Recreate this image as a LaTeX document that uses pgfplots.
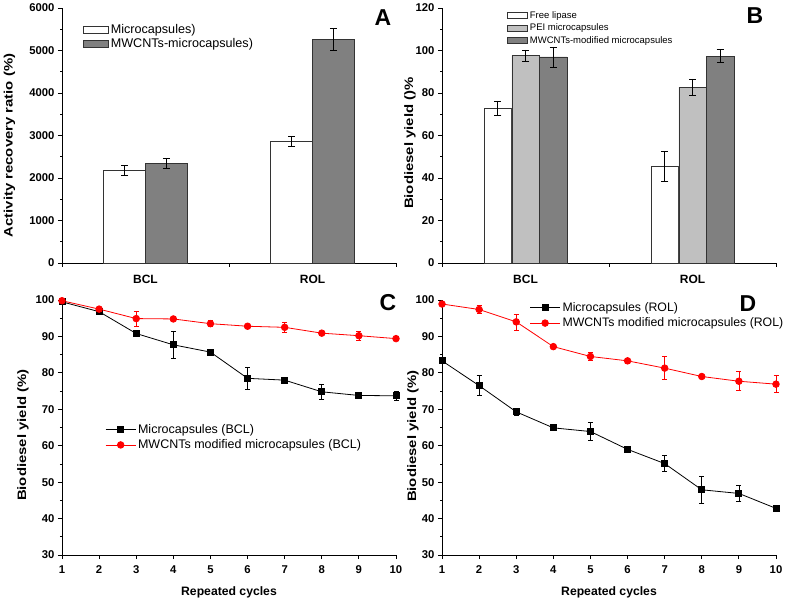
\documentclass[border=0pt]{standalone}
\usepackage{fontspec}
\setmainfont{Liberation Sans}
\usepackage{graphicx}
\usepackage{pgfplots}
\pgfplotsset{compat=1.18}
\definecolor{darkbar}{HTML}{808080}
\definecolor{lightbar}{HTML}{C0C0C0}

% y labels in the source are drawn stretched along their length
\newcommand{\ylab}[1]{\scalebox{1.22}[1]{#1}}

\pgfplotsset{
  panel/.style={
    scale only axis, width=334pt, height=255pt,
    anchor=south west, clip=false,
    axis lines*=left,
    axis line style={line width=0.8pt},
    tick align=outside,
    major tick length=4pt, minor tick length=2pt,
    tick style={line width=0.8pt, black},
    ticklabel style={font=\bfseries\fontsize{11.3}{13}\selectfont},
    label style={font=\bfseries\fontsize{12.2}{14}\selectfont},
    /pgf/number format/assume math mode=true,
    /pgf/number format/1000 sep={},
  },
  barlegend/.style={
    legend image code/.code={\draw[##1] (0pt,-3.5pt) rectangle (25pt,3.5pt);},
  },
  linelegend/.style={
    legend image code/.code={\draw[mark repeat=2,mark phase=2,##1]
      plot coordinates {(0pt,0pt) (15pt,0pt) (30pt,0pt)};},
  },
  eb/.style={error bars/.cd, y dir=both, y explicit,
    error bar style={black, line width=0.7pt},
    error mark options={rotate=90, mark size=#1, black, line width=0.7pt}},
  ebred/.style={error bars/.cd, y dir=both, y explicit,
    error bar style={red, line width=0.7pt},
    error mark options={rotate=90, mark size=#1, red, line width=0.7pt}},
}

\begin{document}
\begin{tikzpicture}
\path[use as bounding box] (0,0) rectangle (787pt,600pt);

% ---- A: activity recovery ----
\begin{axis}[panel, at={(62pt,337pt)},
  ybar, bar width=0.25,
  xmin=0.5, xmax=2.5, ymin=0, ymax=6000,
  xtick={0.5,1.5,2.5}, xticklabels={},
  extra x ticks={1,2}, extra x tick labels={BCL,ROL},
  extra x tick style={tick style={draw=none}},
  xticklabel style={yshift=-5pt, font=\bfseries\fontsize{12}{14}\selectfont},
  ytick={0,1000,...,6000}, minor y tick num=1,
  ylabel={\ylab{Activity recovery ratio (\%)}},
  ylabel style={at={(axis description cs:-0.157,0.461)}, anchor=center},
  barlegend,
  legend style={at={(axis description cs:0.063,0.945)}, anchor=north west,
    draw=none, fill=none, inner sep=0pt, row sep=0pt,
    font=\fontsize{12.6}{14}\selectfont},
  legend cell align=left,
]
\addplot[bar shift=-0.125, fill=white, draw=black!80, line width=0.6pt, eb=3.5pt]
  coordinates {(1,2180) +- (0,117) (2,2856) +- (0,120)};
\addlegendentry{Microcapsules)}
\addplot[bar shift=0.125, fill=darkbar, draw=black!80, line width=0.6pt, eb=3.5pt]
  coordinates {(1,2340) +- (0,120) (2,5258) +- (0,265)};
\addlegendentry{MWCNTs-microcapsules)}
\end{axis}

% ---- B: biodiesel yield, bars ----
\begin{axis}[panel, at={(442pt,337pt)},
  ybar, bar width=0.163,
  xmin=0.5, xmax=2.5, ymin=0, ymax=120,
  xtick={0.5,1.5,2.5}, xticklabels={},
  extra x ticks={1,2}, extra x tick labels={BCL,ROL},
  extra x tick style={tick style={draw=none}},
  xticklabel style={yshift=-5pt, font=\bfseries\fontsize{12}{14}\selectfont},
  ytick={0,20,...,120}, minor y tick num=1,
  ylabel={\ylab{Biodiesel yield ()\%}},
  ylabel style={at={(axis description cs:-0.096,0.47)}, anchor=center},
  legend image code/.code={\draw[#1] (0pt,-3pt) rectangle (20pt,3pt);},
  legend style={at={(axis description cs:0.195,0.995)}, anchor=north west,
    draw=none, fill=none, inner sep=0pt, row sep=0pt,
    font=\fontsize{9.5}{10.5}\selectfont},
  legend cell align=left,
]
\addplot[bar shift=-0.166, fill=white, draw=black!80, line width=0.6pt, eb=3.5pt]
  coordinates {(1,72.8) +- (0,3.5) (2,45.4) +- (0,7.0)};
\addlegendentry{Free lipase}
\addplot[bar shift=0, fill=lightbar, draw=black!80, line width=0.6pt, eb=3.5pt]
  coordinates {(1,97.6) +- (0,2.7) (2,82.8) +- (0,3.8)};
\addlegendentry{PEI microcapsules}
\addplot[bar shift=0.166, fill=darkbar, draw=black!80, line width=0.6pt, eb=3.5pt]
  coordinates {(1,97.0) +- (0,4.7) (2,97.3) +- (0,3.1)};
\addlegendentry{MWCNTs-modified microcapsules}
\end{axis}

% ---- C: reuse, BCL ----
\begin{axis}[panel, at={(62pt,45pt)},
  xmin=1, xmax=10, ymin=30, ymax=100,
  xtick={1,...,10}, ytick={30,40,...,100}, minor y tick num=1,
  xticklabel style={yshift=-3pt},
  xlabel={Repeated cycles},
  xlabel style={at={(axis description cs:0.5,-0.145)}, anchor=center},
  ylabel={\ylab{Biodiesel yield (\%)}},
  ylabel style={at={(axis description cs:-0.117,0.47)}, anchor=center},
  linelegend,
  legend style={at={(axis description cs:0.129,0.522)}, anchor=north west,
    draw=none, fill=none, inner sep=0pt, row sep=1pt,
    font=\fontsize{12.5}{14}\selectfont},
  legend cell align=left,
]
\addplot[black, line width=0.8pt, mark=square*, mark size=3pt, eb=2.5pt]
  coordinates {(1,99.5) +- (0,0.3) (2,96.8) +- (0,0.4) (3,90.8) +- (0,0.5)
    (4,87.7) +- (0,3.6) (5,85.7) +- (0,0.4) (6,78.5) +- (0,2.9)
    (7,78.0) +- (0,0.4) (8,74.8) +- (0,2.0) (9,73.8) +- (0,0.4)
    (10,73.7) +- (0,1.2)};
\addlegendentry{Microcapsules (BCL)}
\addplot[red, line width=0.8pt, mark=*, mark size=3.3pt, ebred=2.5pt]
  coordinates {(1,99.8) +- (0,0.2) (2,97.5) +- (0,0.3) (3,94.9) +- (0,2.1)
    (4,94.8) +- (0,0.4) (5,93.5) +- (0,0.8) (6,92.8) +- (0,0.5)
    (7,92.5) +- (0,1.4) (8,90.9) +- (0,0.4) (9,90.2) +- (0,1.2)
    (10,89.4) +- (0,0.3)};
\addlegendentry{MWCNTs modified microcapsules (BCL)}
\end{axis}

% ---- D: reuse, ROL ----
\begin{axis}[panel, at={(442pt,45pt)},
  xmin=1, xmax=10, ymin=30, ymax=100,
  xtick={1,...,10}, ytick={30,40,...,100}, minor y tick num=1,
  xticklabel style={yshift=-3pt},
  xlabel={Repeated cycles},
  xlabel style={at={(axis description cs:0.5,-0.145)}, anchor=center},
  ylabel={\ylab{Biodiesel yield (\%)}},
  ylabel style={at={(axis description cs:-0.087,0.466)}, anchor=center},
  linelegend,
  legend style={at={(axis description cs:0.262,0.999)}, anchor=north west,
    draw=none, fill=none, inner sep=0pt, row sep=1pt,
    font=\fontsize{12.3}{14}\selectfont},
  legend cell align=left,
]
\addplot[black, line width=0.8pt, mark=square*, mark size=3pt, eb=2.5pt]
  coordinates {(1,83.3) +- (0,0.4) (2,76.5) +- (0,2.7) (3,69.3) +- (0,1.0)
    (4,64.9) +- (0,0.4) (5,63.9) +- (0,2.5) (6,59.0) +- (0,0.4)
    (7,55.1) +- (0,2.2) (8,47.9) +- (0,3.7) (9,46.9) +- (0,2.2)
    (10,42.8) +- (0,0.3)};
\addlegendentry{Microcapsules (ROL)}
\addplot[red, line width=0.8pt, mark=*, mark size=3.3pt, ebred=2.5pt]
  coordinates {(1,98.9) +- (0,0.3) (2,97.4) +- (0,1.2) (3,94.0) +- (0,2.2)
    (4,87.2) +- (0,0.5) (5,84.5) +- (0,1.0) (6,83.3) +- (0,0.8)
    (7,81.3) +- (0,3.2) (8,79.0) +- (0,0.6) (9,77.7) +- (0,2.6)
    (10,76.9) +- (0,2.3)};
\addlegendentry{MWCNTs modified microcapsules (ROL)}
\end{axis}

% panel letters
\node[inner sep=0pt, font=\bfseries\fontsize{23}{24}\selectfont] at (383pt,582pt) {A};
\node[inner sep=0pt, font=\bfseries\fontsize{23}{24}\selectfont] at (755pt,584pt) {B};
\node[inner sep=0pt, font=\bfseries\fontsize{23}{24}\selectfont] at (388pt,297pt) {C};
\node[inner sep=0pt, font=\bfseries\fontsize{23}{24}\selectfont] at (748pt,296pt) {D};
\end{tikzpicture}
\end{document}
